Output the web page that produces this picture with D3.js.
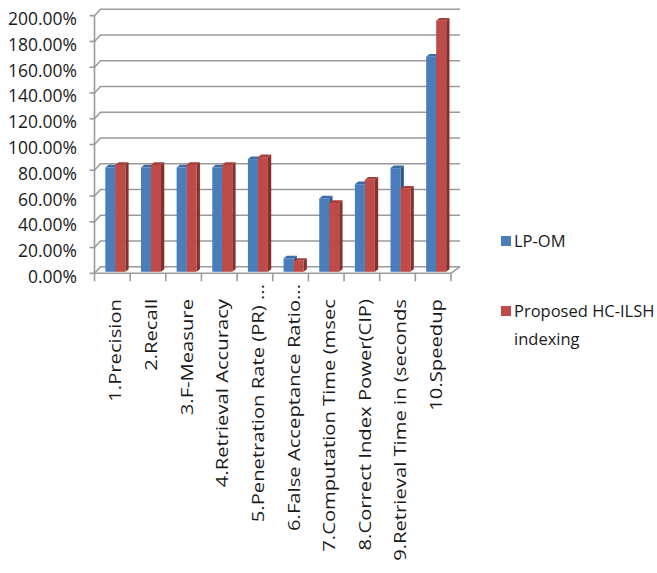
<!DOCTYPE html>
<html><head><meta charset="utf-8">
<script src="https://cdn.jsdelivr.net/npm/d3@7/dist/d3.min.js"></script>
<style>body{margin:0;background:#fff}svg{display:block}text{font-family:"Open Sans",sans-serif;fill:#1a1a1a}</style>
</head><body><svg id="c" width="657" height="573"></svg>
<script>
const categories = ["1.Precision","2.Recall","3.F-Measure","4.Retrieval Accuracy","5.Penetration Rate (PR) ...","6.False Acceptance Ratio...","7.Computation Time (msec","8.Correct Index Power(CIP)","9.Retrieval Time in (seconds","10.Speedup"];
const seriesNames = ["LP-OM","Proposed HC-ILSH indexing"];
const lpom = [81, 81, 81, 81, 87.5, 10.5, 57, 68, 80.5, 167];
const proposed = [83, 83, 83, 83, 89, 8.5, 53.5, 71.5, 64.5, 195];
const yTicks = [0,20,40,60,80,100,120,140,160,180,200];
const yTickLabels = ["0.00%","20.00%","40.00%","60.00%","80.00%","100.00%","120.00%","140.00%","160.00%","180.00%","200.00%"];

const svg = d3.select("#c");
const frontL = 94.5, frontR = 451, backL = 100.5, backR = 460;
const xFront = d3.scaleBand().domain(categories).range([frontL, frontR]);
const yFront = d3.scaleLinear().domain([0,200]).range([273.3, 15.7]);
const yBack = d3.scaleLinear().domain([0,200]).range([266.7, 9.3]);
const yBar = d3.scaleLinear().domain([0,200]).range([271.8, 14.2]);
const grid = "#9a9a9a";

const g = svg.append("g");
// wall gridlines
yTicks.forEach(v => {
  g.append("path").attr("d", `M${frontL},${yFront(v)}L${backL},${yBack(v)}L${backR},${yBack(v)}`)
   .attr("fill","none").attr("stroke",grid).attr("stroke-width",1.6);
  g.append("line").attr("x1",frontL-5).attr("x2",frontL).attr("y1",yFront(v)).attr("y2",yFront(v))
   .attr("stroke",grid).attr("stroke-width",1.6);
});
// vertical axis
g.append("line").attr("x1",frontL).attr("x2",frontL).attr("y1",yFront(200)).attr("y2",yFront(0))
 .attr("stroke",grid).attr("stroke-width",1.6);
// floor front & right edge
g.append("path").attr("d",`M${frontL},${yFront(0)}L${frontR},${yFront(0)}L${backR},${yBack(0)}`)
 .attr("fill","none").attr("stroke",grid).attr("stroke-width",1.6);
// category ticks
const tickXs = categories.map(c => xFront(c)).concat([frontR]);
tickXs.forEach(x => g.append("line").attr("x1",x).attr("x2",x).attr("y1",yFront(0)).attr("y2",yFront(0)+8)
  .attr("stroke",grid).attr("stroke-width",1.6));

// y labels
g.selectAll(".yl").data(yTicks).enter().append("text")
 .attr("transform",d=>`translate(77,${yFront(d)+9.5}) scale(1.06,1.13)`).attr("text-anchor","end")
 .attr("font-size","16.5px").text((d,i)=>yTickLabels[i]);

// bars
const bw = 10, ddx = 3.3, ddy = -2.6, shiftX = 3;
const colors = [
  {front:"#4a7ebb", top:"#3c6ca7", side:"#2f5687"},
  {front:"#be4b48", top:"#a63f3c", side:"#86302e"}
];
const series = [lpom, proposed];
const bars = svg.append("g");
categories.forEach((c, ci) => {
  const cx = xFront(c) + xFront.bandwidth()/2 + shiftX;
  series.forEach((s, si) => {
    const x0 = cx - bw + si*bw, x1 = x0 + bw;
    const yt = yBar(s[ci]), yb = yBar(0);
    const col = colors[si];
    bars.append("path").attr("d",`M${x1},${yb}L${x1+ddx},${yb+ddy}L${x1+ddx},${yt+ddy}L${x1},${yt}Z`).attr("fill",col.side);
    bars.append("path").attr("d",`M${x0},${yt}L${x0+ddx},${yt+ddy}L${x1+ddx},${yt+ddy}L${x1},${yt}Z`).attr("fill",col.top);
    bars.append("rect").attr("x",x0).attr("y",yt).attr("width",bw).attr("height",yb-yt).attr("fill",col.front);
  });
});

// x labels
categories.forEach(c => {
  const cx = xFront(c) + xFront.bandwidth()/2 + shiftX;
  const ya = c.endsWith("...") ? 284 : 299;
  svg.append("text").attr("transform",`translate(${cx},${ya}) rotate(-90) scale(1.19,1)`)
    .attr("text-anchor","end").attr("dy","0.35em").attr("font-size","17px").text(c);
});

// legend
const leg = svg.append("g");
leg.append("rect").attr("x",501).attr("y",236).attr("width",10).attr("height",10).attr("fill",colors[0].front);
leg.append("text").attr("x",514).attr("y",247).attr("font-size","16.5px").text(seriesNames[0]);
leg.append("rect").attr("x",501).attr("y",306).attr("width",10).attr("height",10).attr("fill",colors[1].front);
const t2 = leg.append("text").attr("x",514).attr("y",317).attr("font-size","16.5px");
t2.append("tspan").attr("x",514).text("Proposed HC-ILSH");
t2.append("tspan").attr("x",514).attr("dy",28).text("indexing");
</script></body></html>
